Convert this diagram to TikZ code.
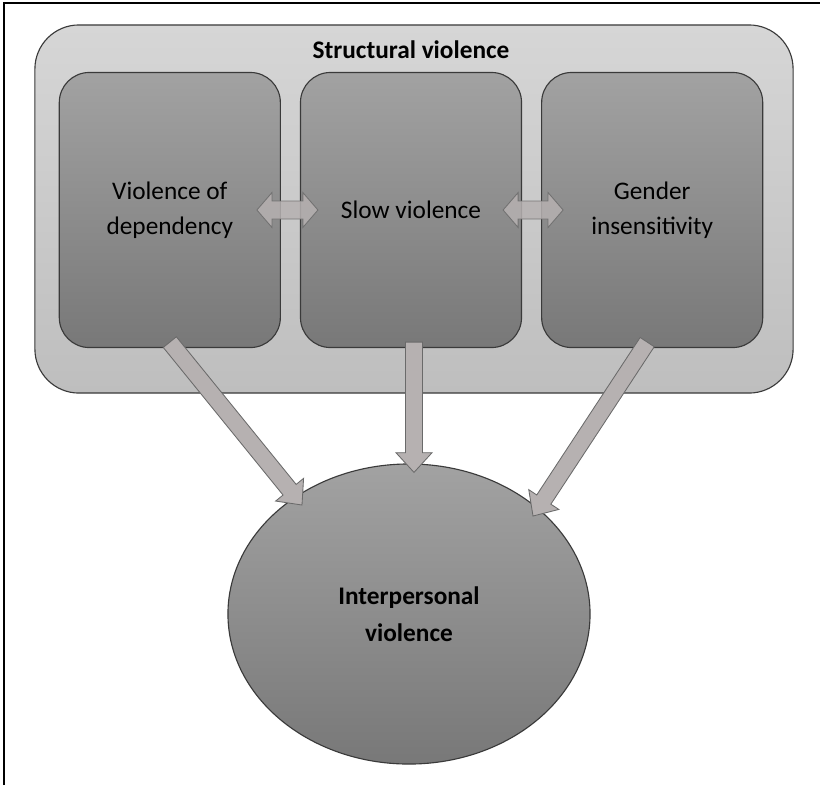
\documentclass[tikz,border=0pt]{standalone}
\usepackage{fontspec}
\setmainfont{Carlito}
\usetikzlibrary{calc,positioning,shapes.geometric}

\definecolor{outerTop}{HTML}{D6D6D6}
\definecolor{outerBot}{HTML}{BEBEBE}
\definecolor{innerTop}{HTML}{A2A2A2}
\definecolor{innerBot}{HTML}{787878}
\definecolor{boxline}{HTML}{3A3A3A}
\definecolor{arrowFill}{HTML}{B6B1B1}
\definecolor{arrowLine}{HTML}{6A6A6A}

\tikzset{
every picture/.style={
line width=0.8pt
},
outerbox/.style={draw=boxline, rounded corners=1.1cm, top color=outerTop, bottom color=outerBot,
  minimum width=18.95cm, minimum height=9.2cm, inner sep=0pt},
innerbox/.style={draw=boxline, rounded corners=0.75cm, top color=innerTop, bottom color=innerBot,
  minimum width=5.525cm, minimum height=6.875cm, align=center, font=\fontsize{18}{25}\selectfont},
goalnode/.style={ellipse, draw=boxline, top color=innerTop, bottom color=innerBot,
  minimum width=9.05cm, minimum height=7.5cm, align=center, font=\bfseries\fontsize{18}{26}\selectfont},
fatarrow/.style={fill=arrowFill, draw=arrowLine, line width=0.6pt, line join=miter}
}

% fat arrow from #1 to #2 (tip at #2)
\newcommand\fatarrow[2]{%
  \coordinate (hb) at ($(#2)!14pt!(#1)$);
  \draw[fatarrow] ($(#1)!6pt!90:(#2)$) -- ($(hb)!6pt!90:(#2)$) -- ($(hb)!12.8pt!90:(#2)$) -- (#2)
    -- ($(hb)!12.8pt!-90:(#2)$) -- ($(hb)!6pt!-90:(#2)$) -- ($(#1)!6pt!-90:(#2)$) -- cycle;
}
% double headed arrow between #1 and #2
\newcommand\dblarrow[2]{%
  \coordinate (ha) at ($(#1)!10.7pt!(#2)$);
  \coordinate (hb) at ($(#2)!10.7pt!(#1)$);
  \draw[fatarrow, opacity=0.85] (#1) -- ($(ha)!12.4pt!90:(#2)$) -- ($(ha)!6.4pt!90:(#2)$)
    -- ($(hb)!6.4pt!90:(#2)$) -- ($(hb)!12.4pt!90:(#2)$) -- (#2)
    -- ($(hb)!12.4pt!-90:(#2)$) -- ($(hb)!6.4pt!-90:(#2)$)
    -- ($(ha)!6.4pt!-90:(#2)$) -- ($(ha)!12.4pt!-90:(#2)$) -- cycle;
}

\begin{document}
\begin{tikzpicture}[x=0.025cm, y=-0.025cm]
\useasboundingbox (0,0) rectangle (820,785);
\fill[white] (0,0) rectangle (820,785);
\draw[line width=1.4pt] (4,785) -- (4,3) -- (820,3);

% structural violence frame
\node[outerbox] (sv0) at (414,209) {};
\node[font=\bfseries\fontsize{18}{22}\selectfont] (title) at (411,50) {Structural violence};

% three forms
\node[innerbox] (slow) at (411,210) {Slow violence};
\node[innerbox, left=0.475cm of slow] (dep) {Violence of\\dependency};
\node[innerbox, right=0.475cm of slow] (gen) {Gender\\insensitivity};

\coordinate (d1) at ($(dep.east)+(-24,0)$);
\coordinate (d2) at ($(slow.west)+(18,0)$);
\coordinate (d3) at ($(slow.east)+(-19,0)$);
\coordinate (d4) at ($(gen.west)+(22,0)$);
\dblarrow{d1}{d2}
\dblarrow{d3}{d4}

% outcome
\node[goalnode] (inter) at (409,614) {Interpersonal\\violence};

\coordinate (sL) at ($(dep.south)+(0,-6)$);
\coordinate (sM) at ($(slow.south)+(3,-6)$);
\coordinate (sR) at ($(gen.south)+(-5,-6)$);
\coordinate (tL) at ($(inter.center)+(-107,-109)$);
\coordinate (tM) at ($(inter.north)+(5,9)$);
\coordinate (tR) at ($(inter.center)+(124,-98)$);
\fatarrow{sL}{tL}
\fatarrow{sM}{tM}
\fatarrow{sR}{tR}
\end{tikzpicture}
\end{document}
